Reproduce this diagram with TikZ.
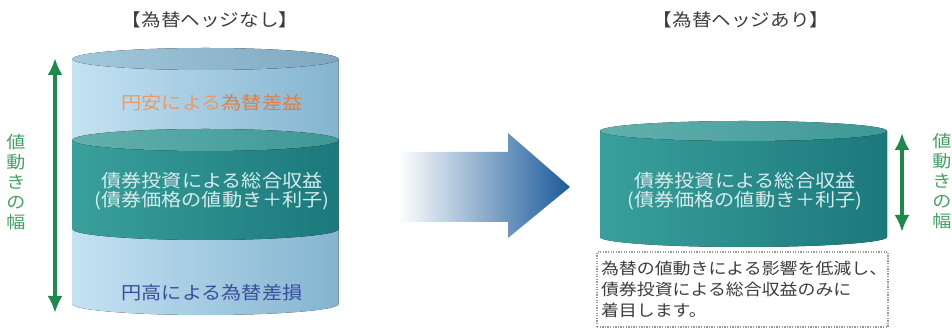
\documentclass[tikz,border=0pt]{standalone}
\usepackage{fontspec}
\newfontfamily\jp[FakeStretch=1.12]{Noto Sans CJK JP}
\usetikzlibrary{arrows.meta}

\definecolor{skyL}{HTML}{C4E2F2}
\definecolor{skyR}{HTML}{84B4D0}
\definecolor{skyTopL}{HTML}{A2C8DB}
\definecolor{skyTopR}{HTML}{7FA8C0}
\definecolor{tealL}{HTML}{3AA09C}
\definecolor{tealR}{HTML}{1B787B}
\definecolor{tealTopL}{HTML}{62B0AD}
\definecolor{tealTopR}{HTML}{3D9896}
\definecolor{wgreen}{HTML}{1B8A4C}
\definecolor{lgreen}{HTML}{45A065}
\definecolor{yenOr}{HTML}{EC9A66}
\definecolor{yenOrD}{HTML}{E07F45}
\definecolor{yenBl}{HTML}{3A4C9C}
\definecolor{arrowMid}{HTML}{4FA9D2}
\definecolor{arrowBl}{HTML}{1B5A9A}
\definecolor{textGr}{HTML}{3C3C3C}

% drum: cx, rx, ry, bottom, top, colour pair
\newcommand{\drum}[7]{%
  \fill[left color=#6, right color=#7] ({#1-#2},#5) -- ({#1-#2},#4)
    arc[start angle=180, end angle=360, x radius=#2, y radius=#3] -- ({#1+#2},#5) -- cycle;
}
\newcommand{\drumtop}[6]{%
  \fill[left color=#5, right color=#6] (#1,#4) ellipse[x radius=#2, y radius=#3];
}

\begin{document}
\begin{tikzpicture}[x=1pt, y=1pt,
    title/.style={font=\jp\fontsize{17.5}{20}\selectfont, text=textGr},
    inlabel/.style={font=\jp\fontsize{18}{18.5}\selectfont, align=center},
    vlabel/.style={font=\jp\fontsize{17}{20}\selectfont, text=lgreen, align=center, inner sep=0pt},
    width/.style={draw=wgreen, line width=4.5pt, {Latex[length=17pt,width=15pt]}-{Latex[length=17pt,width=15pt]}},
    notebox/.style={draw=gray!80, line width=1.3pt, dash pattern=on 1.3pt off 1.3pt,
        font=\jp\fontsize{16}{21}\selectfont, text=textGr, align=left,
        text width=283pt, minimum width=291pt, minimum height=75pt, inner sep=3pt}]
\useasboundingbox (0,0) rectangle (952,331);

% titles
\node[title] (titleA) at (210,311) {【為替ヘッジなし】};
\node[title] (titleB) at (741,311) {【為替ヘッジあり】};

% left drum: top band, bottom band, then the teal band over them
\drum{205.5}{133}{11}{191}{272}{skyL}{skyR}
\drumtop{205.5}{133}{11}{272}{skyTopL}{skyTopR}
\drum{205.5}{133}{11}{27}{102}{skyL}{skyR}
\drum{205.5}{133}{11}{102}{191}{tealL}{tealR}
\drumtop{205.5}{133}{11}{191}{tealTopL}{tealTopR}

\node[inlabel] (gain) at (212,228) {{\color{yenOr}円安による}{\color{yenOrD}為替差益}};
\node[inlabel, text=white!85!teal] (total) at (212,140) {債券投資による総合収益\\(債券価格の値動き＋利子)};
\node[inlabel, text=yenBl] (loss) at (212,38) {円高による為替差損};

% left range arrow
\coordinate (wA1) at (55,273);
\coordinate (wA2) at (55,18);
\draw[width] (wA1) -- (wA2);
\node[vlabel] (rangeA) at (16,149) {値\\動\\き\\の\\幅};

% big arrow
\shade[left color=white, middle color=arrowMid, right color=arrowBl]
  (398,179) -- (508,179) -- (508,198) -- (570,144) -- (508,93) -- (508,109) -- (398,109) -- cycle;

% right drum
\drum{743.5}{143.5}{10}{94}{200}{tealL}{tealR}
\drumtop{743.5}{143.5}{10}{200}{tealTopL}{tealTopR}
\node[inlabel, text=white!85!teal] (totalB) at (745,140) {債券投資による総合収益\\(債券価格の値動き＋利子)};

% right range arrow
\coordinate (wB1) at (902,198);
\coordinate (wB2) at (902,99);
\draw[width] (wB1) -- (wB2);
\node[vlabel] (rangeB) at (942,150) {値\\動\\き\\の\\幅};

% note
\node[notebox] (note) at (742.5,41.5) {為替の値動きによる影響を低減し、\\債券投資による総合収益のみに\\着目します。};
\end{tikzpicture}
\end{document}
